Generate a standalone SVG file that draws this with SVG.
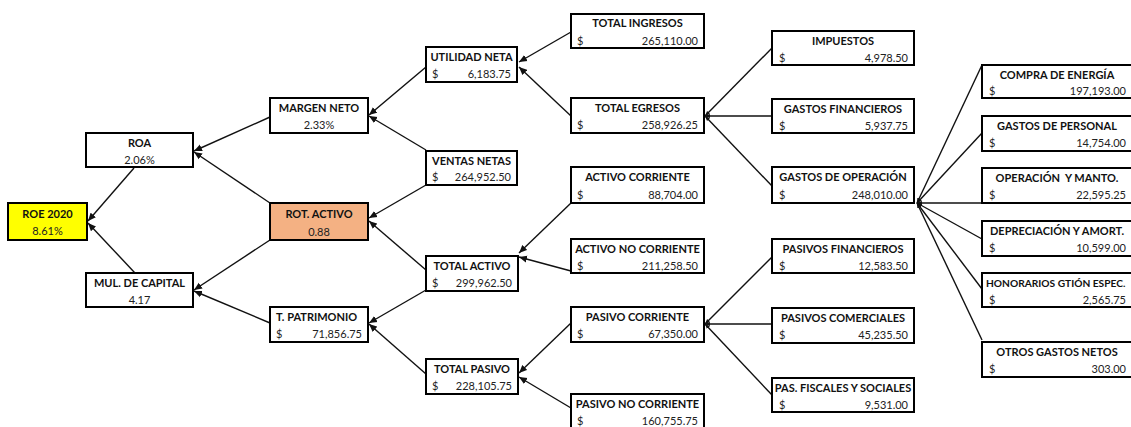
<svg xmlns="http://www.w3.org/2000/svg" width="1131" height="427" viewBox="0 0 1131 427">
<style>
.b{fill:#fff;stroke:#000;stroke-width:2}
.t{font-family:Lato,"Liberation Sans",sans-serif;font-weight:bold;font-size:11px;fill:#111;text-anchor:middle}
.v{font-family:Lato,"Liberation Sans",sans-serif;font-size:11px;fill:#222}
.c{font-family:Lato,"Liberation Sans",sans-serif;font-size:11px;fill:#222;text-anchor:middle}
.r{text-anchor:end}
.l{fill:none;stroke:#111;stroke-width:1.4}
.a{marker-end:url(#ah)}
.h{marker-end:url(#hb)}
</style>
<defs>
<marker id="ah" markerUnits="userSpaceOnUse" markerWidth="9" markerHeight="8" refX="8" refY="4" orient="auto"><path d="M0,0.5 L8,4 L0,7.5 z" fill="#111"/></marker>
<marker id="hb" markerUnits="userSpaceOnUse" markerWidth="6" markerHeight="6" refX="5" refY="3" orient="auto"><path d="M0,1 L5,3 L0,5 z" fill="#111"/></marker>
</defs>
<g id="connectors">
<line class="l a" x1="134" y1="168" x2="88" y2="221"/>
<line class="l a" x1="135" y1="273" x2="88" y2="223"/>
<line class="l a" x1="270" y1="117" x2="194" y2="151"/>
<line class="l a" x1="270" y1="203" x2="194" y2="152"/>
<line class="l a" x1="270" y1="240" x2="194" y2="290"/>
<line class="l a" x1="270" y1="323" x2="194" y2="291"/>
<line class="l a" x1="426" y1="67" x2="369" y2="115"/>
<line class="l a" x1="426" y1="150" x2="369" y2="116"/>
<line class="l a" x1="426" y1="185" x2="369" y2="218"/>
<line class="l a" x1="426" y1="270" x2="369" y2="221"/>
<line class="l a" x1="426" y1="290" x2="369" y2="323"/>
<line class="l a" x1="426" y1="374" x2="369" y2="324"/>
<line class="l a" x1="571" y1="32" x2="519" y2="62"/>
<line class="l a" x1="571" y1="116" x2="519" y2="67"/>
<line class="l a" x1="571" y1="203" x2="519" y2="253"/>
<line class="l a" x1="571" y1="271" x2="519" y2="257"/>
<line class="l a" x1="571" y1="323" x2="519" y2="373"/>
<line class="l a" x1="571" y1="408" x2="519" y2="377"/>
<line class="l h" x1="772" y1="48" x2="705" y2="116"/>
<line class="l h" x1="772" y1="116" x2="705" y2="116"/>
<line class="l h" x1="772" y1="186" x2="705" y2="116"/>
<line class="l h" x1="772" y1="257" x2="705" y2="324"/>
<line class="l h" x1="772" y1="324" x2="705" y2="324"/>
<line class="l h" x1="772" y1="395" x2="705" y2="324"/>
<line class="l h" x1="982" y1="65" x2="917" y2="203"/>
<line class="l h" x1="982" y1="133" x2="917" y2="203"/>
<line class="l h" x1="982" y1="203" x2="917" y2="203"/>
<line class="l h" x1="982" y1="239" x2="917" y2="203"/>
<line class="l h" x1="982" y1="289" x2="917" y2="203"/>
<line class="l h" x1="982" y1="340" x2="917" y2="203"/>
</g>
<g id="roe"><rect class="b" x="8" y="203" width="79" height="37" style="fill:#ffff00"/><text class="t" x="47.5" y="218">ROE 2020</text><text class="c" x="47.5" y="235">8.61%</text></g>
<g id="roa"><rect class="b" x="86" y="133" width="107" height="34"/><text class="t" x="139.5" y="147">ROA</text><text class="c" x="139.5" y="164">2.06%</text></g>
<g id="mul"><rect class="b" x="86" y="273" width="107" height="34"/><text class="t" x="139.5" y="287">MUL. DE CAPITAL</text><text class="c" x="139.5" y="304">4.17</text></g>
<g id="margen"><rect class="b" x="270" y="98" width="98" height="35"/><text class="t" x="319" y="112">MARGEN NETO</text><text class="c" x="319" y="129">2.33%</text></g>
<g id="rot"><rect class="b" x="270" y="203" width="98" height="37" style="fill:#f4b183"/><text class="t" x="319" y="218">ROT. ACTIVO</text><text class="c" x="319" y="236">0.88</text></g>
<g id="patrimonio"><rect class="b" x="270" y="307" width="98" height="35"/><text class="t" x="276" y="321" style="text-anchor:start">T. PATRIMONIO</text><text class="v" x="276" y="338">$</text><text class="v r" x="362" y="338">71,856.75</text></g>
<g id="utilidad"><rect class="b" x="426" y="47" width="91" height="35"/><text class="t" x="471.5" y="61">UTILIDAD NETA</text><text class="v" x="432" y="78">$</text><text class="v r" x="511" y="78">6,183.75</text></g>
<g id="ventas"><rect class="b" x="426" y="151" width="91" height="34"/><text class="t" x="471.5" y="165">VENTAS NETAS</text><text class="v" x="432" y="181">$</text><text class="v r" x="511" y="181">264,952.50</text></g>
<g id="tactivo"><rect class="b" x="426" y="256" width="92" height="35"/><text class="t" x="472" y="270">TOTAL ACTIVO</text><text class="v" x="432" y="287">$</text><text class="v r" x="512" y="287">299,962.50</text></g>
<g id="tpasivo"><rect class="b" x="426" y="359" width="92" height="35"/><text class="t" x="472" y="373">TOTAL PASIVO</text><text class="v" x="432" y="390">$</text><text class="v r" x="512" y="390">228,105.75</text></g>
<g id="ingresos"><rect class="b" x="571" y="14" width="133" height="34"/><text class="t" x="637.5" y="27">TOTAL INGRESOS</text><text class="v" x="577" y="45">$</text><text class="v r" x="698" y="45">265,110.00</text></g>
<g id="egresos"><rect class="b" x="571" y="98" width="133" height="35"/><text class="t" x="637.5" y="112">TOTAL EGRESOS</text><text class="v" x="577" y="129">$</text><text class="v r" x="698" y="129">258,926.25</text></g>
<g id="acorriente"><rect class="b" x="571" y="167" width="133" height="36"/><text class="t" x="637.5" y="181">ACTIVO CORRIENTE</text><text class="v" x="577" y="199">$</text><text class="v r" x="698" y="199">88,704.00</text></g>
<g id="anocorriente"><rect class="b" x="571" y="239" width="133" height="34"/><text class="t" x="637.5" y="253">ACTIVO NO CORRIENTE</text><text class="v" x="577" y="270">$</text><text class="v r" x="698" y="270">211,258.50</text></g>
<g id="pcorriente"><rect class="b" x="571" y="307" width="133" height="35"/><text class="t" x="637.5" y="321">PASIVO CORRIENTE</text><text class="v" x="577" y="338">$</text><text class="v r" x="698" y="338">67,350.00</text></g>
<g id="pnocorriente"><rect class="b" x="571" y="394" width="133" height="40"/><text class="t" x="637.5" y="408">PASIVO NO CORRIENTE</text><text class="v" x="577" y="425">$</text><text class="v r" x="698" y="425">160,755.75</text></g>
<g id="impuestos"><rect class="b" x="772" y="31" width="142" height="34"/><text class="t" x="843" y="45">IMPUESTOS</text><text class="v" x="779" y="62">$</text><text class="v r" x="908" y="62">4,978.50</text></g>
<g id="gfinancieros"><rect class="b" x="772" y="99" width="142" height="34"/><text class="t" x="843" y="113">GASTOS FINANCIEROS</text><text class="v" x="779" y="130">$</text><text class="v r" x="908" y="130">5,937.75</text></g>
<g id="goperacion"><rect class="b" x="772" y="167" width="142" height="36"/><text class="t" x="843" y="181">GASTOS DE OPERACIÓN</text><text class="v" x="779" y="199">$</text><text class="v r" x="908" y="199">248,010.00</text></g>
<g id="pfinancieros"><rect class="b" x="772" y="239" width="142" height="34"/><text class="t" x="843" y="253">PASIVOS FINANCIEROS</text><text class="v" x="779" y="270">$</text><text class="v r" x="908" y="270">12,583.50</text></g>
<g id="pcomerciales"><rect class="b" x="772" y="308" width="142" height="35"/><text class="t" x="843" y="322">PASIVOS COMERCIALES</text><text class="v" x="779" y="339">$</text><text class="v r" x="908" y="339">45,235.50</text></g>
<g id="pfiscales"><rect class="b" x="772" y="378" width="142" height="34"/><text class="t" x="843" y="392">PAS. FISCALES Y SOCIALES</text><text class="v" x="779" y="409">$</text><text class="v r" x="908" y="409">9,531.00</text></g>
<g id="energia"><rect class="b" x="982" y="65" width="154" height="33"/><text class="t" x="1057" y="79">COMPRA DE ENERGÍA</text><text class="v" x="989" y="95">$</text><text class="v r" x="1126" y="95">197,193.00</text></g>
<g id="personal"><rect class="b" x="982" y="116" width="154" height="35"/><text class="t" x="1057" y="130">GASTOS DE PERSONAL</text><text class="v" x="989" y="147">$</text><text class="v r" x="1126" y="147">14,754.00</text></g>
<g id="manto"><rect class="b" x="982" y="168" width="154" height="35"/><text class="t" x="1057" y="182" style="white-space:pre">OPERACIÓN  Y MANTO.</text><text class="v" x="989" y="199">$</text><text class="v r" x="1126" y="199">22,595.25</text></g>
<g id="depreciacion"><rect class="b" x="982" y="221" width="154" height="35"/><text class="t" x="1057" y="235">DEPRECIACIÓN Y AMORT.</text><text class="v" x="989" y="252">$</text><text class="v r" x="1126" y="252">10,599.00</text></g>
<g id="honorarios"><rect class="b" x="982" y="273" width="154" height="34"/><text class="t" x="986" y="287" style="text-anchor:start;font-size:10.2px">HONORARIOS GTIÓN ESPEC.</text><text class="v" x="989" y="304">$</text><text class="v r" x="1126" y="304">2,565.75</text></g>
<g id="otros"><rect class="b" x="982" y="342" width="154" height="35"/><text class="t" x="1057" y="356">OTROS GASTOS NETOS</text><text class="v" x="989" y="373">$</text><text class="v r" x="1126" y="373">303.00</text></g>
</svg>
